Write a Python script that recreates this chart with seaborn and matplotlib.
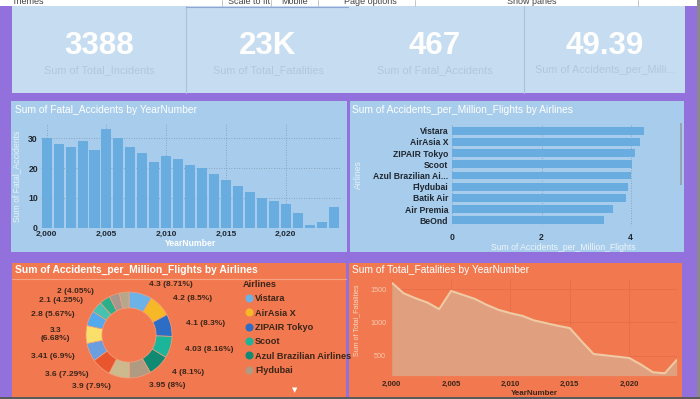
import matplotlib
matplotlib.use("Agg")
import matplotlib.pyplot as plt
import seaborn as sns
import numpy as np
import pandas as pd
from matplotlib.patches import Rectangle
from matplotlib.lines import Line2D

# ---------------- data ----------------
years = list(range(2000, 2025))
fatal_accidents = [30, 28, 27, 29, 26, 33, 30, 27, 25, 22, 24, 23, 21, 20, 18,
                   16, 14, 12, 10, 9, 8, 5, 1, 2, 7]
total_fatalities = [1600, 1440, 1365, 1300, 1200, 1475, 1415, 1355, 1265, 1190,
                    1140, 1100, 1030, 990, 950, 915, 715, 525, 505, 485, 465,
                    365, 250, 235, 435]

bar_airlines = ["Vistara", "AirAsia X", "ZIPAIR Tokyo", "Scoot",
                "Azul Brazilian Ai...", "Flydubai", "Batik Air", "Air Premia", "BeOnd"]
bar_acc_per_million = [4.3, 4.2, 4.1, 4.03, 4.0, 3.95, 3.9, 3.6, 3.41]

donut_values = [4.3, 4.2, 4.1, 4.03, 4.0, 3.95, 3.9, 3.6, 3.41, 3.3, 2.8, 2.1, 2.0, 1.9, 1.8]
donut_labels = ["4.3 (8.71%)", "4.2 (8.5%)", "4.1 (8.3%)", "4.03 (8.16%)", "4 (8.1%)",
                "3.95 (8%)", "3.9 (7.9%)", "3.6 (7.29%)", "3.41 (6.9%)", "3.3\n(6.68%)",
                "2.8 (5.67%)", "2.1 (4.25%)", "2 (4.05%)", "", ""]
donut_colors = ["#6DB2E6", "#F6B826", "#2C6DC6", "#1BB59A", "#118A74", "#B09A82",
                "#CDB98E", "#E9552C", "#6A9EDF", "#FADF6A", "#52A9EC", "#47C2B0",
                "#2BAF8A", "#A8968F", "#B6A68A"]
legend_airlines = ["Vistara", "AirAsia X", "ZIPAIR Tokyo", "Scoot",
                   "Azul Brazilian Airlines", "Flydubai"]

kpi_values = ["3388", "23K", "467", "49.39"]
kpi_labels = ["Sum of Total_Incidents", "Sum of Total_Fatalities",
              "Sum of Fatal_Accidents", "Sum of Accidents_per_Milli..."]

toolbar_items = ["Themes", "Scale to fit", "Mobile", "Page options", "Show panes"]

# ---------------- styling ----------------
sns.set_style("white")
plt.rcParams["font.family"] = ["Liberation Sans", "DejaVu Sans"]

W, H = 700, 399
PURPLE = "#9271DD"
KPI_BG = "#C6DDF1"
BLUE_PANEL = "#A8CDEC"
BAR_BLUE = "#68ACE0"
ORANGE = "#F2794F"
DARK = "#1E2630"
LABEL_DARK = "#3A2519"

fig = plt.figure(figsize=(W / 100, H / 100), dpi=100, facecolor=PURPLE)


def px_axes(x0, y0, x1, y1, **kw):
    ax = fig.add_axes([x0 / W, 1 - y1 / H, (x1 - x0) / W, (y1 - y0) / H], **kw)
    ax.set_zorder(1)
    return ax


def frect(x0, y0, x1, y1, color, z=-5, **kw):
    fig.patches.append(Rectangle((x0 / W, 1 - y1 / H), (x1 - x0) / W, (y1 - y0) / H,
                                 transform=fig.transFigure, facecolor=color,
                                 edgecolor="none", zorder=z, **kw))


def ftext(x, y, s, **kw):
    fig.text(x / W, 1 - y / H, s, **kw)


def fline(x0, y0, x1, y1, color, lw=0.8):
    fig.add_artist(Line2D([x0 / W, x1 / W], [1 - y0 / H, 1 - y1 / H],
                          transform=fig.transFigure, color=color, lw=lw, zorder=-4))


# ---------------- toolbar ----------------
frect(0, 0, 700, 6, "white")
tool_x = [12, 228, 281, 344, 507]
for tx, t in zip(tool_x, toolbar_items):
    ftext(tx, 1.0, t, fontsize=6.5, color="#444444", ha="left", va="center")
for sx in [222, 271, 318, 415, 638]:
    fline(sx, 0, sx, 6, "#BBBBBB", 0.6)

# ---------------- KPI band ----------------
frect(12, 6, 685, 93, KPI_BG)
for sx in [186, 524]:
    fline(sx, 6, sx, 93, "#A9C2DE", 0.8)
fline(186, 6.5, 348, 6.5, "#8FA6D2", 0.8)
kpi_cx = [99, 268, 435, 605]
for cx, v, lab in zip(kpi_cx, kpi_values, kpi_labels):
    ftext(cx, 46, v, fontsize=22.5, fontweight="bold", color="white", ha="center", va="center")
    ftext(cx, 70, lab, fontsize=7.8, color="#B0C7DD", ha="center", va="center")

# ---------------- panels ----------------
frect(11, 101, 347, 252, BLUE_PANEL)
frect(350, 101, 684, 252, BLUE_PANEL)
frect(12, 263, 346, 397, ORANGE)
frect(349, 263, 682, 397, ORANGE)
frect(0, 397, 700, 399, "#5A5A5A")
frect(697, 0, 700, 397, "#8A8A8A")

# ---------------- chart 1: fatal accidents bars ----------------
ftext(15, 110, "Sum of Fatal_Accidents by YearNumber", fontsize=7.4, color="white",
      ha="left", va="center")
ax1 = px_axes(40.7, 123.4, 339.5, 227.7)
ax1.set_facecolor("none")
df1 = pd.DataFrame({"YearNumber": years, "Fatal_Accidents": fatal_accidents})
sns.barplot(data=df1, x="YearNumber", y="Fatal_Accidents", native_scale=True,
            color=BAR_BLUE, saturation=1, width=0.84, ax=ax1, zorder=2,
            linewidth=0, edgecolor="none")
ax1.set_xlim(1999.5, 2024.5)
ax1.set_ylim(0, 35)
xt = [2000, 2005, 2010, 2015, 2020]
ax1.set_xticks(xt)
ax1.set_xticklabels([f"{v:,}" for v in xt], fontsize=6, fontweight="bold", color=DARK)
ax1.set_yticks([0, 10, 20, 30])
ax1.set_yticklabels(["0", "10", "20", "30"], fontsize=6.2, fontweight="bold", color=DARK)
ax1.tick_params(axis="x", length=0, pad=2.5)
ax1.tick_params(axis="y", length=0, pad=2)
ax1.grid(True, axis="both", color="#7F96AC", linestyle=(0, (1, 2)), lw=0.6, zorder=0)
ax1.set_axisbelow(True)
for s in ax1.spines.values():
    s.set_visible(False)
ax1.set_xlabel("YearNumber", fontsize=6.2, fontweight="bold", color="white", labelpad=0.5)
ax1.set_ylabel("")
ftext(17, 176, "Sum of Fatal_Accidents", fontsize=6.2, color="#E6F1FA", rotation=90,
      ha="center", va="center")

# ---------------- chart 2: airlines horizontal bars ----------------
ftext(352, 110, "Sum of Accidents_per_Million_Flights by Airlines", fontsize=7.4,
      color="white", ha="left", va="center")
ax2 = px_axes(452.3, 125.1, 660, 225.9)
ax2.set_facecolor("none")
df2 = pd.DataFrame({"Airlines": bar_airlines, "Value": bar_acc_per_million})
sns.barplot(data=df2, x="Value", y="Airlines", orient="h", color=BAR_BLUE,
            saturation=1, width=0.68, ax=ax2, zorder=2, linewidth=0, edgecolor="none")
ax2.set_xlim(0, (660 - 452.3) / 44.6)
ax2.set_ylim(8.5, -0.5)
ax2.set_xticks([0, 2, 4])
ax2.set_xticklabels(["0", "2", "4"], fontsize=6.2, fontweight="bold", color=DARK)
ax2.set_yticks(range(len(bar_airlines)))
ax2.set_yticklabels(bar_airlines, fontsize=6.2, fontweight="bold", color=DARK)
ax2.tick_params(axis="x", length=0, pad=5)
ax2.tick_params(axis="y", length=0, pad=3)
ax2.grid(True, axis="x", color="#7F96AC", linestyle=(0, (1, 2)), lw=0.6, zorder=0)
ax2.set_axisbelow(True)
for s in ax2.spines.values():
    s.set_visible(False)
ax2.set_xlabel("")
ax2.set_ylabel("")
ftext(563, 248, "Sum of Accidents_per_Million_Flights", fontsize=6.2, color="#EEF5FB",
      ha="center", va="center")
ftext(358, 175, "Airlines", fontsize=6.2, color="#E6F1FA", rotation=90,
      ha="center", va="center")
frect(679.5, 123, 681.5, 185, "#98A6B4", z=3)

# ---------------- chart 3: donut ----------------
ftext(15, 269.5, "Sum of Accidents_per_Million_Flights by Airlines", fontsize=7.4,
      fontweight="bold", color="white", ha="left", va="center")
fline(12, 279, 346, 279, "#F6A383", 0.8)
ax3 = px_axes(79, 285, 179, 385)
R = 0.86
wedges, texts = ax3.pie(donut_values, colors=donut_colors, startangle=90,
                        counterclock=False, radius=R, labels=donut_labels,
                        labeldistance=1.22,
                        wedgeprops=dict(width=R * 0.37, edgecolor="#F3A07E", linewidth=0.5),
                        textprops=dict(fontsize=6, fontweight="bold", color=LABEL_DARK))
for t in texts:
    x, y = t.get_position()
    t.set_position((x + (0.12 if x > 0 else -0.12), y))
    t.set_multialignment("center")
    t.set_clip_on(False)
ax3.set_xlim(-1, 1)
ax3.set_ylim(-1, 1)
ax3.set_aspect("equal")

handles = [Line2D([], [], marker="o", ls="", color=c, markersize=4.8) for c in donut_colors[:6]]
leg = fig.legend(handles, legend_airlines, title="Airlines", loc="upper left",
                 bbox_to_anchor=(243 / W, 1 - 280 / H), frameon=False,
                 prop={"weight": "bold", "size": 6.6},
                 title_fontproperties={"weight": "bold", "size": 6.6},
                 labelcolor=LABEL_DARK, handletextpad=0.1, labelspacing=0.58,
                 borderpad=0, borderaxespad=0, alignment="left", handlelength=1.2)
leg.get_title().set_color(LABEL_DARK)
ftext(295, 390, "\u25BC", fontsize=5, color="white", ha="center", va="center",
      family=["DejaVu Sans"])

# ---------------- chart 4: fatalities area ----------------
ftext(352, 270, "Sum of Total_Fatalities by YearNumber", fontsize=7.4, color="white",
      ha="left", va="center")
ax4 = px_axes(391.7, 279.3, 676.7, 375.6)
ax4.set_facecolor("none")
df4 = pd.DataFrame({"YearNumber": years, "Total_Fatalities": total_fatalities})
ax4.set_ylim(200, 1650)
ax4.fill_between(df4["YearNumber"], df4["Total_Fatalities"], ax4.get_ylim()[0],
                 color="#E0A07F", lw=0, zorder=1)
sns.lineplot(data=df4, x="YearNumber", y="Total_Fatalities", color="#F0CAA4", lw=1.5,
             ax=ax4, zorder=2)
ax4.set_xlim(2000, 2024)
ax4.set_ylim(200, 1650)
ax4.set_xticks(xt)
ax4.set_xticklabels([f"{v:,}" for v in xt], fontsize=5.6, fontweight="bold", color=LABEL_DARK)
ax4.set_yticks([500, 1000, 1500])
ax4.set_yticklabels(["500", "1000", "1500"], fontsize=5.2, color="#F8C9B0")
ax4.tick_params(length=0, pad=4)
ax4.grid(True, color="#E86E47", lw=0.6, zorder=0)
ax4.set_axisbelow(True)
for s in ax4.spines.values():
    s.set_visible(False)
ax4.set_xlabel("YearNumber", fontsize=5.8, fontweight="bold", color=LABEL_DARK, labelpad=1)
ax4.set_ylabel("")
ftext(357, 320, "Sum of Total_Fatalities", fontsize=5, color="#FAD9C8", rotation=90,
      ha="center", va="center")

fig.savefig("out.png", dpi=100, facecolor=PURPLE)
